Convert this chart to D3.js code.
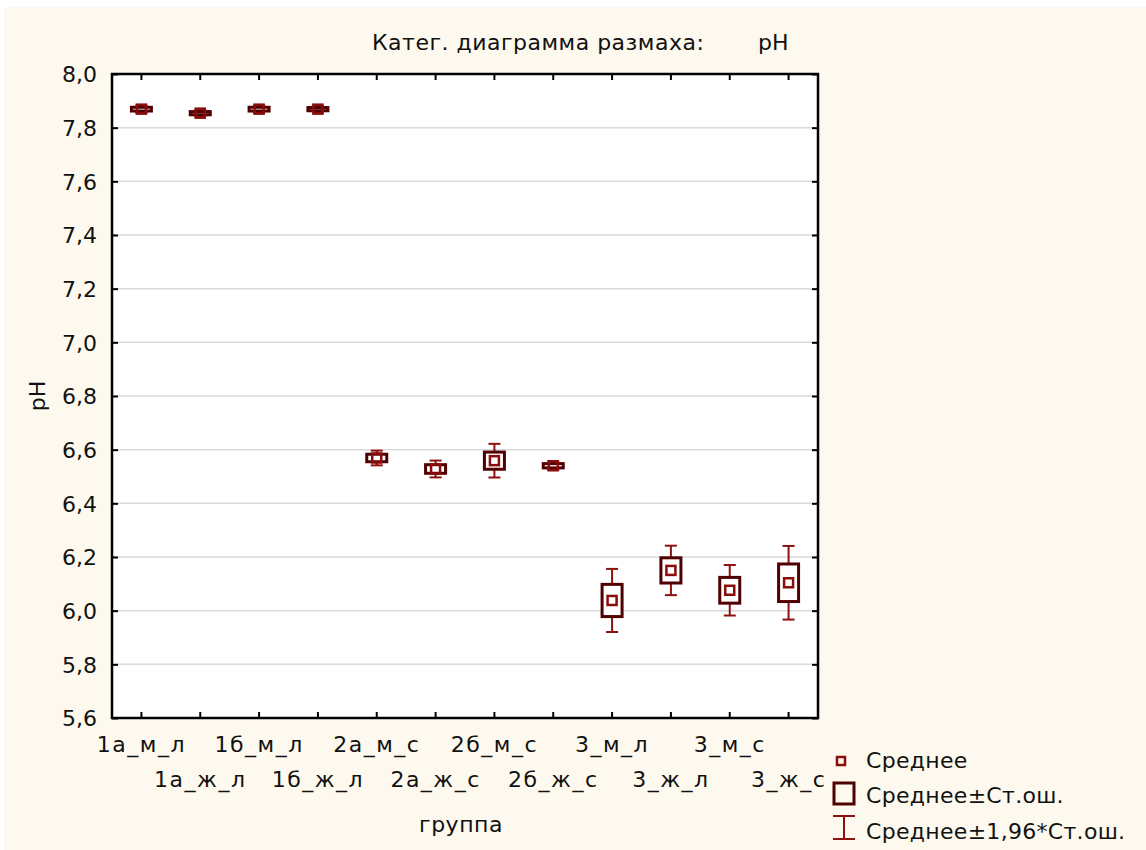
<!DOCTYPE html>
<html>
<head>
<meta charset="utf-8">
<script src="https://cdn.jsdelivr.net/npm/d3@7"></script>
<style>
  body { margin: 0; background: #fff; }
  text { font-family: "DejaVu Sans", sans-serif; fill: #111; }
</style>
</head>
<body>
<div id="chart"></div>
<script>
// groups and their values
var categories = ["1а_м_л", "1а_ж_л", "1б_м_л", "1б_ж_л", "2а_м_с", "2а_ж_с",
                  "2б_м_с", "2б_ж_с", "3_м_л", "3_ж_л", "3_м_с", "3_ж_с"];
var means = [7.869, 7.854, 7.869, 7.869, 6.569, 6.528, 6.559, 6.540, 6.038, 6.150, 6.076, 6.104];
var stdErr = [0.007, 0.006, 0.007, 0.006, 0.014, 0.016, 0.032, 0.008, 0.060, 0.047, 0.048, 0.070];
var yTicks = [5.6, 5.8, 6.0, 6.2, 6.4, 6.6, 6.8, 7.0, 7.2, 7.4, 7.6, 7.8, 8.0];
var legendLabels = ["Среднее", "Среднее±Ст.ош.", "Среднее±1,96*Ст.ош."];

var data = categories.map(function(c, i) {
  return { cat: c, mean: means[i], se: stdErr[i] };
});

var meanCol = "#8c0c0c", boxCol = "#500000", whiskCol = "#8c1212";

var svg = d3.select("#chart").append("svg")
  .attr("width", 1146)
  .attr("height", 850);

svg.append("rect")
  .attr("x", 4).attr("y", 7)
  .attr("width", 1142).attr("height", 843)
  .attr("fill", "#fdf9ee");

var pL = 112, pR = 818, pT = 74, pB = 718;

var x = d3.scaleBand().domain(categories).range([pL, pR]);
var y = d3.scaleLinear().domain([5.6, 8.0]).range([pB, pT]);

svg.append("rect")
  .attr("x", pL).attr("y", pT)
  .attr("width", pR - pL).attr("height", pB - pT)
  .attr("fill", "#fff");

// grid
svg.append("g").selectAll("line")
  .data(yTicks.slice(1, -1))
  .enter().append("line")
  .attr("x1", pL).attr("x2", pR)
  .attr("y1", function(d) { return y(d); })
  .attr("y2", function(d) { return y(d); })
  .attr("stroke", "#d9d9d9")
  .attr("stroke-width", 1.5);

var fmt = function(d) { return d.toFixed(1).replace(".", ","); };

var yAxis = svg.append("g")
  .attr("transform", "translate(" + pL + ",0)")
  .call(d3.axisLeft(y).tickValues(yTicks).tickSize(-6).tickPadding(15).tickFormat(fmt));
var yAxisR = svg.append("g")
  .attr("transform", "translate(" + pR + ",0)")
  .call(d3.axisRight(y).tickValues(yTicks).tickSize(-6).tickFormat(""));
var xAxis = svg.append("g")
  .attr("transform", "translate(0," + pB + ")")
  .call(d3.axisBottom(x).tickSize(-6));
var xAxisT = svg.append("g")
  .attr("transform", "translate(0," + pT + ")")
  .call(d3.axisTop(x).tickSize(-6).tickFormat(""));

svg.selectAll(".domain").remove();
svg.selectAll(".tick line").attr("stroke", "#000").attr("stroke-width", 2);
svg.selectAll(".tick text").attr("font-size", 22).attr("fill", "#111")
  .style("font-family", "'DejaVu Sans', sans-serif");
yAxis.selectAll(".tick text").attr("dy", "0.36em");
xAxis.selectAll(".tick text")
  .attr("dy", 0)
  .style("letter-spacing", "1.5px")
  .attr("y", function(d, i) { return i % 2 == 0 ? 34 : 69; });

// frame
svg.append("rect")
  .attr("x", pL).attr("y", pT)
  .attr("width", pR - pL).attr("height", pB - pT)
  .attr("fill", "none")
  .attr("stroke", "#000")
  .attr("stroke-width", 2.5);

// boxes
var g = svg.append("g").selectAll("g")
  .data(data)
  .enter().append("g")
  .attr("transform", function(d) { return "translate(" + (x(d.cat) + x.bandwidth() / 2) + ",0)"; });

g.append("line")
  .attr("x1", 0).attr("x2", 0)
  .attr("y1", function(d) { return y(d.mean + 1.96 * d.se); })
  .attr("y2", function(d) { return y(d.mean - 1.96 * d.se); })
  .attr("stroke", whiskCol).attr("stroke-width", 2);
g.append("line")
  .attr("x1", -6).attr("x2", 6)
  .attr("y1", function(d) { return y(d.mean + 1.96 * d.se); })
  .attr("y2", function(d) { return y(d.mean + 1.96 * d.se); })
  .attr("stroke", whiskCol).attr("stroke-width", 2);
g.append("line")
  .attr("x1", -6).attr("x2", 6)
  .attr("y1", function(d) { return y(d.mean - 1.96 * d.se); })
  .attr("y2", function(d) { return y(d.mean - 1.96 * d.se); })
  .attr("stroke", whiskCol).attr("stroke-width", 2);

g.append("rect")
  .attr("x", -10).attr("width", 20)
  .attr("y", function(d) { return y(d.mean + d.se); })
  .attr("height", function(d) { return y(d.mean - d.se) - y(d.mean + d.se); })
  .attr("fill", "#fff")
  .attr("stroke", boxCol).attr("stroke-width", 3);

g.append("rect")
  .attr("x", -4.5).attr("width", 9)
  .attr("y", function(d) { return y(d.mean) - 4.5; })
  .attr("height", 9)
  .attr("fill", "none")
  .attr("stroke", meanCol).attr("stroke-width", 2.5);

// titles
svg.append("text")
  .attr("x", 372).attr("y", 50)
  .attr("font-size", 22)
  .style("letter-spacing", "0.5px")
  .text("Катег. диаграмма размаха:");
svg.append("text")
  .attr("x", 758).attr("y", 50)
  .attr("font-size", 22)
  .text("pH");
svg.append("text")
  .attr("transform", "translate(45,396) rotate(-90)")
  .attr("text-anchor", "middle")
  .attr("font-size", 22)
  .text("pH");
svg.append("text")
  .attr("x", 461).attr("y", 832)
  .attr("text-anchor", "middle")
  .attr("font-size", 22)
  .style("letter-spacing", "0.5px")
  .text("группа");

// legend
var lg = svg.append("g");
lg.append("rect")
  .attr("x", 837).attr("y", 757).attr("width", 8).attr("height", 8)
  .attr("fill", "none").attr("stroke", meanCol).attr("stroke-width", 2.5);
lg.append("rect")
  .attr("x", 834).attr("y", 783).attr("width", 20).attr("height", 21)
  .attr("fill", "none").attr("stroke", boxCol).attr("stroke-width", 3);
lg.append("line")
  .attr("x1", 844).attr("x2", 844).attr("y1", 816).attr("y2", 839)
  .attr("stroke", whiskCol).attr("stroke-width", 2);
lg.append("line")
  .attr("x1", 833).attr("x2", 855).attr("y1", 816).attr("y2", 816)
  .attr("stroke", whiskCol).attr("stroke-width", 2);
lg.append("line")
  .attr("x1", 833).attr("x2", 855).attr("y1", 839).attr("y2", 839)
  .attr("stroke", whiskCol).attr("stroke-width", 2);
lg.selectAll("text.leg")
  .data(legendLabels)
  .enter().append("text")
  .attr("class", "leg")
  .attr("x", 866)
  .attr("y", function(d, i) { return [768, 803, 839][i]; })
  .attr("font-size", 22)
  .style("letter-spacing", "0.3px")
  .text(function(d) { return d; });
</script>
</body>
</html>
